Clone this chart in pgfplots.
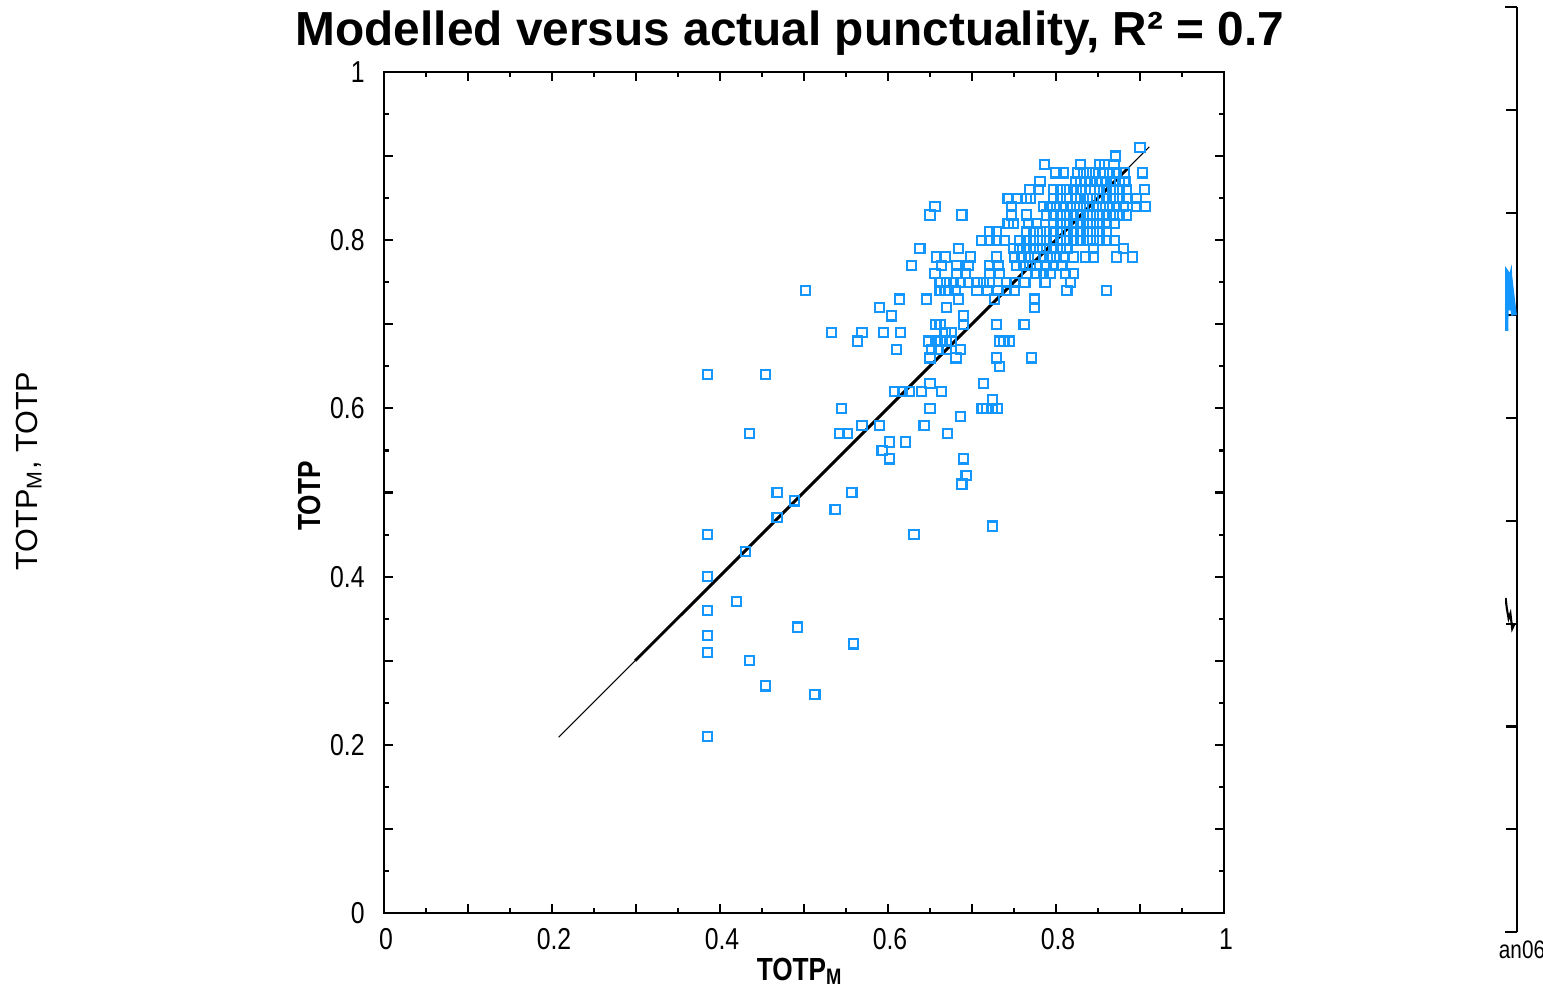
\documentclass[border=0pt]{standalone}
\usepackage{fontspec}
\setmainfont{Liberation Sans}
\newfontfamily\narrowfont[FakeStretch=0.82]{Liberation Sans}
\usepackage{pgfplots}
\pgfplotsset{compat=1.18}
\definecolor{ptblue}{RGB}{20,150,255}
\begin{document}
\begin{tikzpicture}[x=0.1mm,y=0.1mm]
\path[use as bounding box] (0,0) rectangle (1543,995);
\begin{axis}[at={(38.4mm,8.2mm)}, anchor=south west,
  width=84mm, height=84.1mm, scale only axis,
  xmin=0, xmax=1, ymin=0, ymax=1,
  xtick={0,0.1,0.2,0.3,0.4,0.5,0.6,0.7,0.8,0.9,1},
  ytick={0,0.1,0.2,0.3,0.4,0.5,0.6,0.7,0.8,0.9,1},
  xticklabels={0,,0.2,,0.4,,0.6,,0.8,,1},
  yticklabels={0,,0.2,,0.4,,0.6,,0.8,,1},
  minor tick num=1,
  tick align=inside, xtick pos=both, ytick pos=both,
  major tick length=0.9mm, minor tick length=0.5mm,
  every tick/.style={black, line width=0.6pt},
  axis line style={line width=0.7pt},
  tick label style={font=\narrowfont\fontsize{8.6}{10}\selectfont},
  xticklabel style={yshift=-0.3mm, xshift=0.2mm},
  yticklabel style={xshift=-0.7mm},
  clip=false]
\addplot[only marks, mark=square, mark size=0.46mm, mark options={ptblue, line width=0.6pt}] coordinates {
(0.900,0.91) (0.871,0.90)
(0.786,0.89) (0.829,0.89) (0.852,0.89) (0.858,0.89) (0.869,0.89)
(0.800,0.88) (0.809,0.88) (0.826,0.88) (0.833,0.88) (0.840,0.88) (0.847,0.88) (0.856,0.88) (0.864,0.88) (0.872,0.88) (0.881,0.88) (0.903,0.88)
(0.781,0.87) (0.823,0.87) (0.829,0.87) (0.835,0.87) (0.841,0.87) (0.848,0.87) (0.854,0.87) (0.860,0.87) (0.868,0.87) (0.876,0.87) (0.882,0.87)
(0.769,0.86) (0.779,0.86) (0.797,0.86) (0.805,0.86) (0.813,0.86) (0.821,0.86) (0.829,0.86) (0.835,0.86) (0.841,0.86) (0.846,0.86) (0.852,0.86) (0.860,0.86) (0.868,0.86) (0.876,0.86) (0.884,0.86) (0.905,0.86)
(0.743,0.85) (0.753,0.85) (0.765,0.85) (0.770,0.85) (0.797,0.85) (0.805,0.85) (0.813,0.85) (0.823,0.85) (0.829,0.85) (0.837,0.85) (0.844,0.85) (0.852,0.85) (0.860,0.85) (0.868,0.85) (0.876,0.85) (0.884,0.85) (0.896,0.85)
(0.656,0.84) (0.747,0.84) (0.785,0.84) (0.793,0.84) (0.801,0.84) (0.809,0.84) (0.817,0.84) (0.825,0.84) (0.833,0.84) (0.840,0.84) (0.848,0.84) (0.856,0.84) (0.864,0.84) (0.872,0.84) (0.880,0.84) (0.896,0.84) (0.906,0.84)
(0.650,0.83) (0.688,0.83) (0.747,0.83) (0.765,0.83) (0.789,0.83) (0.797,0.83) (0.805,0.83) (0.813,0.83) (0.821,0.83) (0.829,0.83) (0.837,0.83) (0.844,0.83) (0.852,0.83) (0.860,0.83) (0.868,0.83) (0.876,0.83) (0.884,0.83)
(0.743,0.82) (0.749,0.82) (0.767,0.82) (0.777,0.82) (0.797,0.82) (0.805,0.82) (0.813,0.82) (0.821,0.82) (0.829,0.82) (0.837,0.82) (0.844,0.82) (0.852,0.82) (0.860,0.82) (0.870,0.82)
(0.721,0.81) (0.729,0.81) (0.765,0.81) (0.773,0.81) (0.781,0.81) (0.789,0.81) (0.797,0.81) (0.805,0.81) (0.813,0.81) (0.821,0.81) (0.829,0.81) (0.837,0.81) (0.844,0.81) (0.852,0.81) (0.860,0.81)
(0.711,0.80) (0.721,0.80) (0.729,0.80) (0.739,0.80) (0.757,0.80) (0.765,0.80) (0.773,0.80) (0.781,0.80) (0.789,0.80) (0.797,0.80) (0.805,0.80) (0.813,0.80) (0.821,0.80) (0.829,0.80) (0.837,0.80) (0.844,0.80) (0.852,0.80) (0.860,0.80) (0.870,0.80)
(0.638,0.79) (0.684,0.79) (0.749,0.79) (0.757,0.79) (0.765,0.79) (0.773,0.79) (0.781,0.79) (0.789,0.79) (0.797,0.79) (0.805,0.79) (0.813,0.79) (0.845,0.79) (0.880,0.79)
(0.658,0.78) (0.668,0.78) (0.698,0.78) (0.729,0.78) (0.751,0.78) (0.759,0.78) (0.767,0.78) (0.775,0.78) (0.785,0.78) (0.793,0.78) (0.801,0.78) (0.809,0.78) (0.821,0.78) (0.835,0.78) (0.845,0.78) (0.872,0.78) (0.891,0.78)
(0.628,0.77) (0.664,0.77) (0.682,0.77) (0.696,0.77) (0.721,0.77) (0.731,0.77) (0.753,0.77) (0.761,0.77) (0.769,0.77) (0.777,0.77) (0.789,0.77) (0.797,0.77) (0.807,0.77)
(0.656,0.76) (0.682,0.76) (0.692,0.76) (0.721,0.76) (0.733,0.76) (0.765,0.76) (0.777,0.76) (0.785,0.76) (0.793,0.76) (0.811,0.76) (0.821,0.76)
(0.662,0.75) (0.670,0.75) (0.678,0.75) (0.686,0.75) (0.696,0.75) (0.706,0.75) (0.714,0.75) (0.721,0.75) (0.741,0.75) (0.751,0.75) (0.763,0.75) (0.787,0.75) (0.817,0.75)
(0.502,0.74) (0.662,0.74) (0.668,0.74) (0.672,0.74) (0.680,0.74) (0.706,0.74) (0.718,0.74) (0.731,0.74) (0.741,0.74) (0.751,0.74) (0.813,0.74) (0.860,0.74)
(0.614,0.73) (0.646,0.73) (0.684,0.73) (0.727,0.73) (0.774,0.73)
(0.590,0.72) (0.670,0.72) (0.774,0.72)
(0.604,0.71) (0.690,0.71)
(0.657,0.70) (0.662,0.70) (0.690,0.70) (0.729,0.70) (0.762,0.70)
(0.533,0.69) (0.569,0.69) (0.595,0.69) (0.615,0.69) (0.668,0.69) (0.676,0.69)
(0.564,0.68) (0.648,0.68) (0.657,0.68) (0.662,0.68) (0.670,0.68) (0.676,0.68) (0.733,0.68) (0.738,0.68) (0.745,0.68)
(0.610,0.67) (0.652,0.67) (0.660,0.67) (0.670,0.67) (0.686,0.67)
(0.650,0.66) (0.681,0.66) (0.729,0.66) (0.771,0.66)
(0.733,0.65) (0.385,0.64) (0.454,0.64) (0.650,0.63) (0.714,0.63)
(0.608,0.62) (0.617,0.62) (0.626,0.62) (0.640,0.62) (0.664,0.62)
(0.724,0.61)
(0.545,0.60) (0.650,0.60) (0.712,0.60) (0.717,0.60) (0.724,0.60) (0.730,0.60)
(0.686,0.59) (0.569,0.58) (0.590,0.58) (0.643,0.58)
(0.435,0.57) (0.542,0.57) (0.552,0.57) (0.671,0.57)
(0.602,0.56) (0.621,0.56) (0.593,0.55) (0.602,0.54) (0.690,0.54)
(0.693,0.52) (0.688,0.51) (0.468,0.50) (0.557,0.50) (0.489,0.49) (0.537,0.48) (0.468,0.47)
(0.724,0.46) (0.385,0.45) (0.631,0.45) (0.430,0.43) (0.385,0.40) (0.420,0.37) (0.385,0.36)
(0.492,0.34) (0.385,0.33) (0.559,0.32) (0.385,0.31) (0.435,0.30) (0.454,0.27) (0.513,0.26) (0.385,0.21)
};
\addplot[black, line width=0.3pt] coordinates {(0.208,0.209) (0.911,0.911)};
\addplot[black, line width=0.85pt] coordinates {(0.299,0.300) (0.886,0.886)};
\end{axis}
% partial neighbouring axis at right edge
\begin{axis}[at={(150.5mm,6.3mm)}, anchor=south west,
  width=1.2mm, height=92.5mm, scale only axis,
  xmin=0, xmax=1, ymin=0, ymax=9,
  axis y line*=right, axis x line*=box,
  axis line style={-, line width=0.7pt},
  ytick={0,1,2,3,4,5,6,7,8,9}, yticklabels={},
  xtick=\empty, tick align=inside,
  major tick length=1.1mm,
  every tick/.style={black, line width=0.6pt}]
\addplot[ptblue, line width=1.6pt] coordinates {(0.05,5.85) (0.08,6.42) (0.2,6.4) (0.3,6.25) (0.4,6.3) (0.5,6.05) (0.6,6.15) (0.75,6.0)};
\addplot[black, line width=0.6pt] coordinates {(0.05,3.25) (0.15,3.15) (0.3,3.05) (0.45,3.1) (0.6,2.95) (0.8,3.0)};
\end{axis}
\node[font=\narrowfont\fontsize{7.2}{9}\selectfont, anchor=center, inner sep=0pt] at (1522,45) {an06};
% titles and labels
\node[font=\bfseries\fontsize{13.6}{16}\selectfont, anchor=center] at (790,962) {Modelled versus actual punctuality, R² = 0.7};
\node[font=\narrowfont\bfseries\fontsize{9.1}{11}\selectfont, rotate=90, anchor=center] at (309,499) {TOTP};
\node[font=\narrowfont\bfseries\fontsize{9.1}{11}\selectfont, anchor=base] at (800,15) {TOTP\textsubscript{M}};
\node[font=\fontsize{8.7}{10}\selectfont, rotate=90, anchor=center] at (29,524) {TOTP\textsubscript{M}, TOTP};
\end{tikzpicture}
\end{document}
